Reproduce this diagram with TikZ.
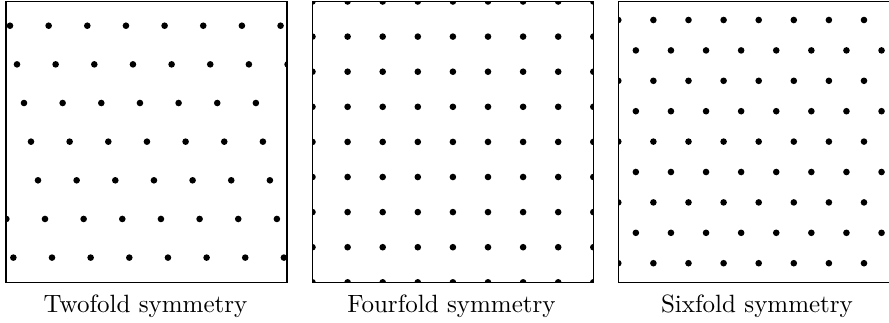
\documentclass[tikz,border=0pt]{standalone}
\begin{document}
\begin{tikzpicture}[x=0.4pt,y=-0.4pt,
  dotmark/.style={fill=black},
  panelbox/.style={draw=black,line width=0.6pt},
  caption/.style={anchor=base,inner sep=0pt,font=\normalsize}]
\useasboundingbox (0,0) rectangle (889,322);
\clip (0,0) rectangle (889,322);
% Panel 1: twofold (oblique lattice)
\begin{scope}
  \clip (6,1.5) rectangle (286.8,282.3);
  \foreach \k in {0,...,6}{
    \foreach \i in {-1,...,8}{
      \pgfmathsetmacro\px{10+7*\k+38.65*\i}
      \pgfmathsetmacro\py{25.7+38.65*\k}
      \fill[dotmark] (\px,\py) circle[radius=1.32pt];
    }
  }
\end{scope}
\draw[panelbox] (6,1.5) rectangle (286.8,282.3);
% Panel 2: fourfold (square lattice)
\begin{scope}
  \clip (312.5,1.5) rectangle (593.3,282.3);
  \foreach \i in {0,...,8}{
    \foreach \j in {0,...,8}{
      \pgfmathsetmacro\px{312.5+35.1*\i}
      \pgfmathsetmacro\py{1.5+35.1*\j}
      \fill[dotmark] (\px,\py) circle[radius=1.32pt];
    }
  }
\end{scope}
\draw[panelbox] (312.5,1.5) rectangle (593.3,282.3);
% Panel 3: sixfold (hexagonal lattice)
\begin{scope}
  \clip (618.3,1.5) rectangle (899.1,282.3);
  \foreach \j in {0,...,8}{
    \foreach \i in {0,...,8}{
      \pgfmathsetmacro\px{618.3+17.55*mod(\j,2)+35.1*\i}
      \pgfmathsetmacro\py{20+30.4*\j}
      \fill[dotmark] (\px,\py) circle[radius=1.32pt];
    }
  }
\end{scope}
\draw[panelbox] (618.3,1.5) rectangle (899.1,282.3);
% Captions
\node[caption] (cap1) at (145.5,312.3) {Twofold symmetry};
\node[caption] (cap2) at (451.5,312.3) {Fourfold symmetry};
\node[caption] (cap3) at (757,312.3) {Sixfold symmetry};
\end{tikzpicture}
\end{document}
